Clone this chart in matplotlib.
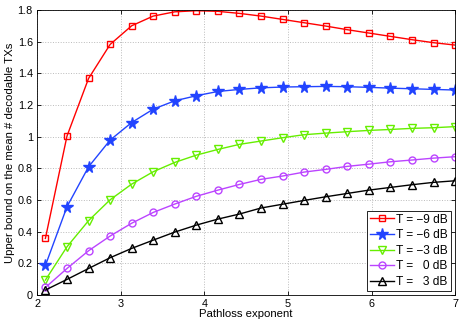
import numpy as np
import matplotlib
matplotlib.use("Agg")
from matplotlib import pyplot as plt
from matplotlib.ticker import FormatStrFormatter

# Pathloss exponent sample points (20 points from 2.1 to 7)
alpha = [2.1, 2.358, 2.616, 2.874, 3.132, 3.389, 3.647, 3.905, 4.163, 4.421,
         4.679, 4.937, 5.195, 5.453, 5.711, 5.968, 6.226, 6.484, 6.742, 7.0]

t_m9 = [0.358, 1.004, 1.368, 1.583, 1.701, 1.762, 1.789, 1.796, 1.792, 1.779,
        1.762, 1.741, 1.720, 1.699, 1.676, 1.655, 1.634, 1.613, 1.594, 1.579]
t_m6 = [0.187, 0.558, 0.810, 0.979, 1.090, 1.174, 1.227, 1.259, 1.286, 1.299,
        1.309, 1.314, 1.316, 1.318, 1.316, 1.312, 1.307, 1.303, 1.299, 1.295]
t_m3 = [0.095, 0.305, 0.470, 0.602, 0.701, 0.779, 0.838, 0.884, 0.920, 0.952,
        0.973, 0.994, 1.013, 1.023, 1.032, 1.040, 1.046, 1.053, 1.057, 1.064]
t_0 = [0.048, 0.168, 0.280, 0.373, 0.454, 0.522, 0.575, 0.624, 0.663, 0.699,
       0.731, 0.752, 0.777, 0.794, 0.813, 0.827, 0.842, 0.853, 0.865, 0.874]
t_3 = [0.032, 0.099, 0.168, 0.236, 0.295, 0.347, 0.398, 0.442, 0.480, 0.512,
       0.550, 0.574, 0.598, 0.621, 0.642, 0.663, 0.680, 0.697, 0.712, 0.722]

labels = ["T = \u22129 dB", "T = \u22126 dB", "T = \u22123 dB", "T =   0 dB", "T =   3 dB"]

plt.rcParams["font.family"] = ["Liberation Sans", "DejaVu Sans"]
plt.rcParams["font.size"] = 7.5

fig = plt.figure(figsize=(4.63, 3.25), dpi=100)
ax = fig.add_axes([0.080, 0.092, 0.903, 0.877])

ax.plot(alpha, t_m9, color="#ff0000", marker="s", ms=4.5, mfc="none", mew=1, lw=1, label=labels[0])
ax.plot(alpha, t_m6, color="#2244ff", marker="*", ms=8.5, mfc="#2244ff", mew=1, lw=1, label=labels[1])
ax.plot(alpha, t_m3, color="#66ee00", marker="v", ms=5.5, mfc="none", mew=1, lw=1, label=labels[2])
ax.plot(alpha, t_0, color="#bb44ff", marker="o", ms=5, mfc="none", mew=1, lw=1, label=labels[3])
ax.plot(alpha, t_3, color="#000000", marker="^", ms=5.5, mfc="none", mew=1, lw=1, label=labels[4])

ax.set_xlim(2, 7)
ax.set_ylim(0, 1.8)
ax.set_xticks(range(2, 8))
ax.set_yticks(np.arange(0, 1.81, 0.2))
ax.yaxis.set_major_formatter(FormatStrFormatter("%g"))
ax.tick_params(direction="in", top=True, right=True, length=3, width=0.6, pad=3,
               labelsize=7.8)
ax.grid(True, linestyle=":", color="#bbbbbb", linewidth=0.7)
for s in ax.spines.values():
    s.set_linewidth(0.6)

ax.set_xlabel("Pathloss exponent", labelpad=0, fontsize=8.2)
ax.set_ylabel("Upper bound on the mean # decodable TXs", labelpad=2, fontsize=8.2)

leg = ax.legend(loc="lower right", fancybox=False, edgecolor="black", framealpha=1,
                fontsize=8.6, borderaxespad=0.35, handlelength=2.0, handletextpad=0.2,
                labelspacing=0.3, borderpad=0.25)
leg.get_frame().set_linewidth(0.6)

fig.savefig("out.png", dpi=100)
